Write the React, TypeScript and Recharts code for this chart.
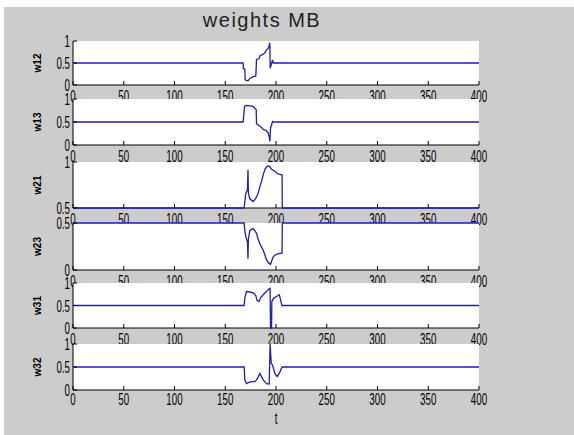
import React from 'react';
import { LineChart, Line, XAxis, YAxis, CartesianGrid } from 'recharts';

// x axis ticks (t)
const xTicks = [0, 50, 100, 150, 200, 250, 300, 350, 400];
const fullTicks = [0, 0.5, 1];
const upperTicks = [0.5, 1];
const lowerTicks = [0, 0.5];

// [t, weight] breakpoints
const w12 = [
  [0, 0.5], [167.6, 0.5], [167.8, 0.38], [169.3, 0.36], [169.6, 0.12], [171, 0.1], [172.6, 0.1],
  [174.2, 0.15], [177.5, 0.19], [180.1, 0.2], [180.8, 0.58], [183.4, 0.6], [184.1, 0.66],
  [187.4, 0.7], [189.1, 0.73], [190.6, 0.8], [192.3, 0.83], [193.3, 0.9], [193.9, 0.96],
  [194.3, 0.38], [195.6, 0.49], [196.6, 0.57], [197.2, 0.5], [400, 0.5],
];
const w13 = [
  [0, 0.5], [167.6, 0.5], [169, 0.84], [171, 0.86], [177.5, 0.84], [179, 0.8], [180.5, 0.77],
  [180.8, 0.46], [183.4, 0.42], [185.8, 0.38], [187.4, 0.34], [190.6, 0.31], [192.3, 0.26],
  [193.3, 0.18], [194, 0.08], [194.6, 0.37], [195.6, 0.44], [196.6, 0.51], [197.2, 0.5], [400, 0.5],
];
const w21 = [
  [0, 0.5], [168.6, 0.5], [169.3, 0.57], [170.3, 0.66], [171.9, 0.7], [172.4, 0.915], [172.8, 0.66],
  [174.2, 0.6], [177.5, 0.57], [179.1, 0.59], [180.8, 0.62], [182.4, 0.66], [184.1, 0.73],
  [185.7, 0.79], [187.4, 0.86], [189.1, 0.92], [190.6, 0.945], [192.3, 0.96], [193.9, 0.95],
  [195.6, 0.92], [197.2, 0.91], [198.9, 0.9], [200.6, 0.88], [202.2, 0.87], [205.4, 0.86],
  [206, 0.86], [206.2, 0.5], [400, 0.5],
];
const w23 = [
  [0, 0.5], [168.6, 0.5], [169.3, 0.42], [170.3, 0.35], [171.9, 0.3], [172.4, 0.12], [172.8, 0.33],
  [174.2, 0.42], [177.5, 0.44], [179.1, 0.42], [180.8, 0.39], [182.4, 0.33], [184.1, 0.28],
  [187.4, 0.21], [189.1, 0.16], [190.6, 0.11], [192.3, 0.08], [194.6, 0.06], [195.6, 0.09],
  [197.2, 0.14], [200.6, 0.17], [205.4, 0.18], [206, 0.18], [206.2, 0.5], [400, 0.5],
];
const w31 = [
  [0, 0.5], [168.6, 0.5], [169.3, 0.67], [170.9, 0.81], [174.2, 0.8], [177.5, 0.78], [180.1, 0.72],
  [181.4, 0.61], [183.4, 0.59], [184.7, 0.67], [187.4, 0.74], [190.6, 0.81], [193.3, 0.87],
  [194.2, 0.88], [194.6, 0], [195.6, 0], [195.9, 0.59], [197.9, 0.67], [200.6, 0.7],
  [203.2, 0.74], [204.5, 0.63], [205.8, 0.5], [400, 0.5],
];
const w32 = [
  [0, 0.5], [168.6, 0.5], [169.3, 0.22], [170.9, 0.14], [172.6, 0.16], [175.8, 0.18], [179.1, 0.18],
  [180.8, 0.22], [182.4, 0.28], [184.1, 0.36], [185.7, 0.29], [187.4, 0.22], [190.6, 0.14],
  [193.3, 0.13], [194.2, 1], [195.3, 0.58], [196.6, 0.54], [198.9, 0.36], [201.2, 0.29],
  [203.2, 0.36], [205.4, 0.47], [206, 0.5], [400, 0.5],
];

const names = ['w12', 'w13', 'w21', 'w23', 'w31', 'w32'];
const series = [w12, w13, w21, w23, w31, w32];
const yTicks = [fullTicks, fullTicks, upperTicks, lowerTicks, fullTicks, fullTicks];

// layout (pixels)
const panelTops = [41, 99, 162, 223, 283, 344];
const panelHeights = [44, 46, 46, 47, 45, 46];
const plotLeft = 73;
const plotRight = 479;
const W = 574;
const LINE = '#1f1fb0';
const FONT = "'Liberation Sans', Arial, sans-serif";
const SQUASH = 'scale(0.75,1.3)';

const tickText = {
  fontFamily: FONT,
  fontSize: 13,
  fill: '#000',
};

const XTick = ({ x, y, payload, gap }: any) => (
  <g>
    <line x1={x} x2={x} y1={y} y2={y - 4} stroke="#000" />
    <text transform={`translate(${x},${y + gap + 12}) ${SQUASH}`} textAnchor="middle" {...tickText}>
      {payload.value}
    </text>
  </g>
);

const TopTick = ({ x, y }: any) => <line x1={x} x2={x} y1={y} y2={y + 4} stroke="#000" />;

const YTick = ({ x, y, payload }: any) => (
  <g>
    <line x1={x} x2={x + 4} y1={y} y2={y} stroke="#000" />
    <text transform={`translate(${x - 3},${y + 6}) ${SQUASH}`} textAnchor="end" {...tickText}>
      {payload.value}
    </text>
  </g>
);

const RightTick = ({ x, y }: any) => <line x1={x} x2={x - 4} y1={y} y2={y} stroke="#000" />;

const Panel = ({ idx }: { idx: number }) => {
  const last = idx === series.length - 1;
  const data = series[idx].map(([t, v]) => ({ t, v }));
  const ticks = yTicks[idx];
  const axisH = last ? 45 : 30;
  const h = 10 + panelHeights[idx] + axisH;
  return (
    <div style={{ position: 'absolute', left: 0, top: panelTops[idx] - 10 }}>
      <LineChart
        width={W}
        height={h}
        data={data}
        margin={{ top: 10, right: W - plotRight, bottom: 0, left: 0 }}
      >
        <CartesianGrid fill="#ffffff" horizontal={false} vertical={false} stroke="none" />
        <XAxis
          dataKey="t"
          type="number"
          domain={[0, 400]}
          ticks={xTicks}
          interval={0}
          height={axisH}
          tickSize={0}
          tickMargin={0}
          tickLine={false}
          axisLine={{ stroke: '#000' }}
          tick={(p: any) => <XTick {...p} gap={last ? 3 : 5} />}
          label={
            last
              ? {
                  content: ({ viewBox }: any) => (
                    <text
                      transform={`translate(${viewBox.x + viewBox.width / 2},${viewBox.y + 34}) ${SQUASH}`}
                      textAnchor="middle"
                      {...tickText}
                    >
                      t
                    </text>
                  ),
                }
              : undefined
          }
        />
        <XAxis
          xAxisId="top"
          dataKey="t"
          type="number"
          orientation="top"
          domain={[0, 400]}
          ticks={xTicks}
          interval={0}
          height={0}
          tickSize={0}
          tickMargin={0}
          tickLine={false}
          axisLine={{ stroke: '#000' }}
          tick={(p: any) => <TopTick {...p} />}
        />
        <YAxis
          type="number"
          domain={[ticks[0], ticks[ticks.length - 1]]}
          ticks={ticks}
          interval={0}
          width={plotLeft}
          tickSize={0}
          tickMargin={0}
          tickLine={false}
          axisLine={{ stroke: '#000' }}
          tick={(p: any) => <YTick {...p} />}
          label={{
            content: ({ viewBox }: any) => (
              <text
                transform={`translate(41,${viewBox.y + viewBox.height / 2}) rotate(-90)`}
                textAnchor="middle"
                fontFamily={FONT}
                fontSize={10}
                fontWeight="bold"
                fill="#000"
              >
                {names[idx]}
              </text>
            ),
          }}
        />
        <YAxis
          yAxisId="right"
          type="number"
          orientation="right"
          domain={[ticks[0], ticks[ticks.length - 1]]}
          ticks={ticks}
          interval={0}
          width={0}
          tickSize={0}
          tickMargin={0}
          tickLine={false}
          axisLine={{ stroke: '#000' }}
          tick={(p: any) => <RightTick {...p} />}
        />
        <Line
          type="linear"
          dataKey="v"
          stroke={LINE}
          strokeWidth={1.3}
          dot={false}
          activeDot={false}
          isAnimationActive={false}
          zIndex={600}
        />
      </LineChart>
    </div>
  );
};

export default function App() {
  return (
    <div style={{ position: 'absolute', left: 0, top: 0, width: W, height: 435, background: '#ffffff', overflow: 'hidden' }}>
      <div style={{ position: 'absolute', left: 4, top: 7, right: 0, bottom: 0, background: '#cccccc' }} />
      <svg width={W} height={40} style={{ position: 'absolute', left: 0, top: 0 }}>
        <text
          x={262}
          y={27}
          textAnchor="middle"
          fontFamily={FONT}
          fontSize={20}
          letterSpacing={1.5}
          fill="#222"
        >
          weights MB
        </text>
      </svg>
      {series.map((_, i) => (
        <Panel key={names[i]} idx={i} />
      ))}
    </div>
  );
}
